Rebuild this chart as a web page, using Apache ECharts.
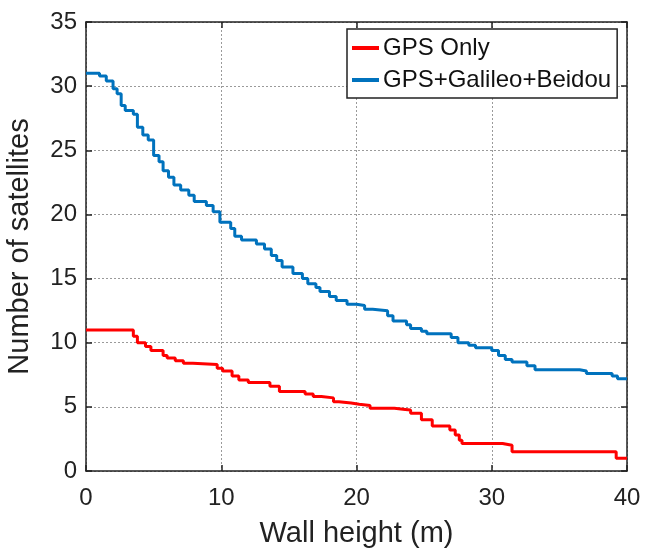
<!DOCTYPE html>
<html><head><meta charset="utf-8">
<script src="https://cdn.jsdelivr.net/npm/echarts@6/dist/echarts.min.js"></script>
<style>html,body{margin:0;padding:0;background:#fff}#c{width:645px;height:549px}</style>
</head><body><div id="c"></div>
<script>
var seriesNames = ['GPS Only', 'GPS+Galileo+Beidou'];
var xTicks = [0, 10, 20, 30, 40];
var yTicks = [0, 5, 10, 15, 20, 25, 30, 35];
// step (x, y) breakpoints, value holds until next x
var gpsOnly = [
  [0,11.0],[3.5,10.5],[3.8,10.0],[4.4,9.7],[4.8,9.4],[5.7,9.0],[6.0,8.8],[6.6,8.6],[7.2,8.4],[7.9,8.3],
  [9.7,8.0],[10.1,7.8],[10.8,7.4],[11.3,7.1],[12.0,6.9],[13.6,6.6],[14.3,6.2],[16.2,6.0],[16.8,5.8],
  [17.4,5.7],[18.3,5.4],[18.7,5.3],[19.6,5.2],[20.2,5.1],[21.0,4.9],[22.8,4.8],[23.6,4.75],[24.0,4.5],
  [24.8,4.0],[25.6,3.5],[26.9,3.2],[27.3,2.8],[27.6,2.4],[27.8,2.15],[30.8,2.0],[31.5,1.5],[39.2,1.0],[40,1.0]
];
var gpsGalBei = [
  [0,31.0],[1.0,30.8],[1.5,30.4],[2.0,29.8],[2.3,29.4],[2.6,28.5],[2.9,28.1],[3.5,27.8],[3.8,26.8],
  [4.2,26.2],[4.6,25.8],[5.0,24.6],[5.4,24.1],[5.7,23.4],[6.1,22.9],[6.5,22.3],[7.0,21.9],[7.6,21.5],
  [8.0,21.0],[8.9,20.7],[9.4,20.2],[9.9,19.4],[10.7,18.9],[11.0,18.3],[11.5,18.0],[12.6,17.7],[13.2,17.3],
  [13.7,16.8],[14.1,16.4],[14.5,15.9],[15.3,15.4],[16.0,15.0],[16.4,14.6],[17.0,14.3],[17.3,14.0],
  [18.0,13.6],[18.5,13.3],[19.3,13.0],[20.0,12.9],[20.6,12.6],[21.2,12.5],[22.3,12.1],[22.7,11.7],
  [23.7,11.4],[24.0,11.1],[24.8,10.9],[25.2,10.7],[27.0,10.4],[27.5,10.0],[28.3,9.8],[28.8,9.6],
  [30.0,9.4],[30.5,9.0],[31.0,8.7],[31.5,8.5],[32.6,8.2],[33.2,7.9],[36.5,7.8],[37.0,7.6],[38.9,7.4],
  [39.3,7.2],[40,7.2]
];
var FONT = '"Liberation Sans", Arial, sans-serif';
var chart = echarts.init(document.getElementById('c'), null, {renderer:'canvas'});
var split = {show:true, lineStyle:{color:'#9a9a9a', type:[2,2], width:1}};
var frameLine = {show:true, onZero:false, lineStyle:{color:'#222', width:1.5}};
var tickIn = {show:true, inside:true, length:6, lineStyle:{color:'#222', width:1.5}};
chart.setOption({
  animation:false,
  grid:{left:86, right:18, top:22, bottom:78, outerBoundsMode:'none', containLabel:false},
  legend:{
    orient:'vertical', left:347, top:29,
    data:seriesNames,
    itemWidth:27, itemHeight:4, itemGap:8,
    icon:'rect',
    borderColor:'#222', borderWidth:1.5, padding:[7,6,6,5],
    backgroundColor:'#fff',
    textStyle:{fontFamily:FONT, fontSize:24, color:'#111', padding:[0,0,0,-1]}
  },
  xAxis:[{
    type:'value', min:0, max:40, interval:10,
    name:'Wall height (m)', nameLocation:'middle', nameGap:48,
    nameTextStyle:{fontFamily:FONT, fontSize:29, color:'#222'},
    axisLine:frameLine, axisTick:tickIn, splitLine:split,
    axisLabel:{fontFamily:FONT, fontSize:24, color:'#222', margin:15,
      formatter:function(v){return xTicks.indexOf(v)>=0 ? String(v) : '';}}
  },{
    type:'value', min:0, max:40, interval:10, position:'top',
    axisLine:frameLine, axisTick:tickIn, splitLine:{show:false}, axisLabel:{show:false}
  }],
  yAxis:[{
    type:'value', min:0, max:35, interval:5,
    name:'Number of satellites', nameLocation:'middle', nameGap:52,
    nameTextStyle:{fontFamily:FONT, fontSize:29, color:'#222'},
    axisLine:frameLine, axisTick:tickIn, splitLine:split,
    axisLabel:{fontFamily:FONT, fontSize:24, color:'#222', margin:9,
      formatter:function(v){return yTicks.indexOf(v)>=0 ? String(v) : '';}}
  },{
    type:'value', min:0, max:35, interval:5, position:'right',
    axisLine:frameLine, axisTick:tickIn, splitLine:{show:false}, axisLabel:{show:false}
  }],
  series:[
    {name:seriesNames[0], type:'line', step:'end', data:gpsOnly, showSymbol:false,
     lineStyle:{color:'#ff0000', width:3}, itemStyle:{color:'#ff0000'}, z:3},
    {name:seriesNames[1], type:'line', step:'end', data:gpsGalBei, showSymbol:false,
     lineStyle:{color:'#0072bd', width:3}, itemStyle:{color:'#0072bd'}, z:3}
  ]
});
</script></body></html>
